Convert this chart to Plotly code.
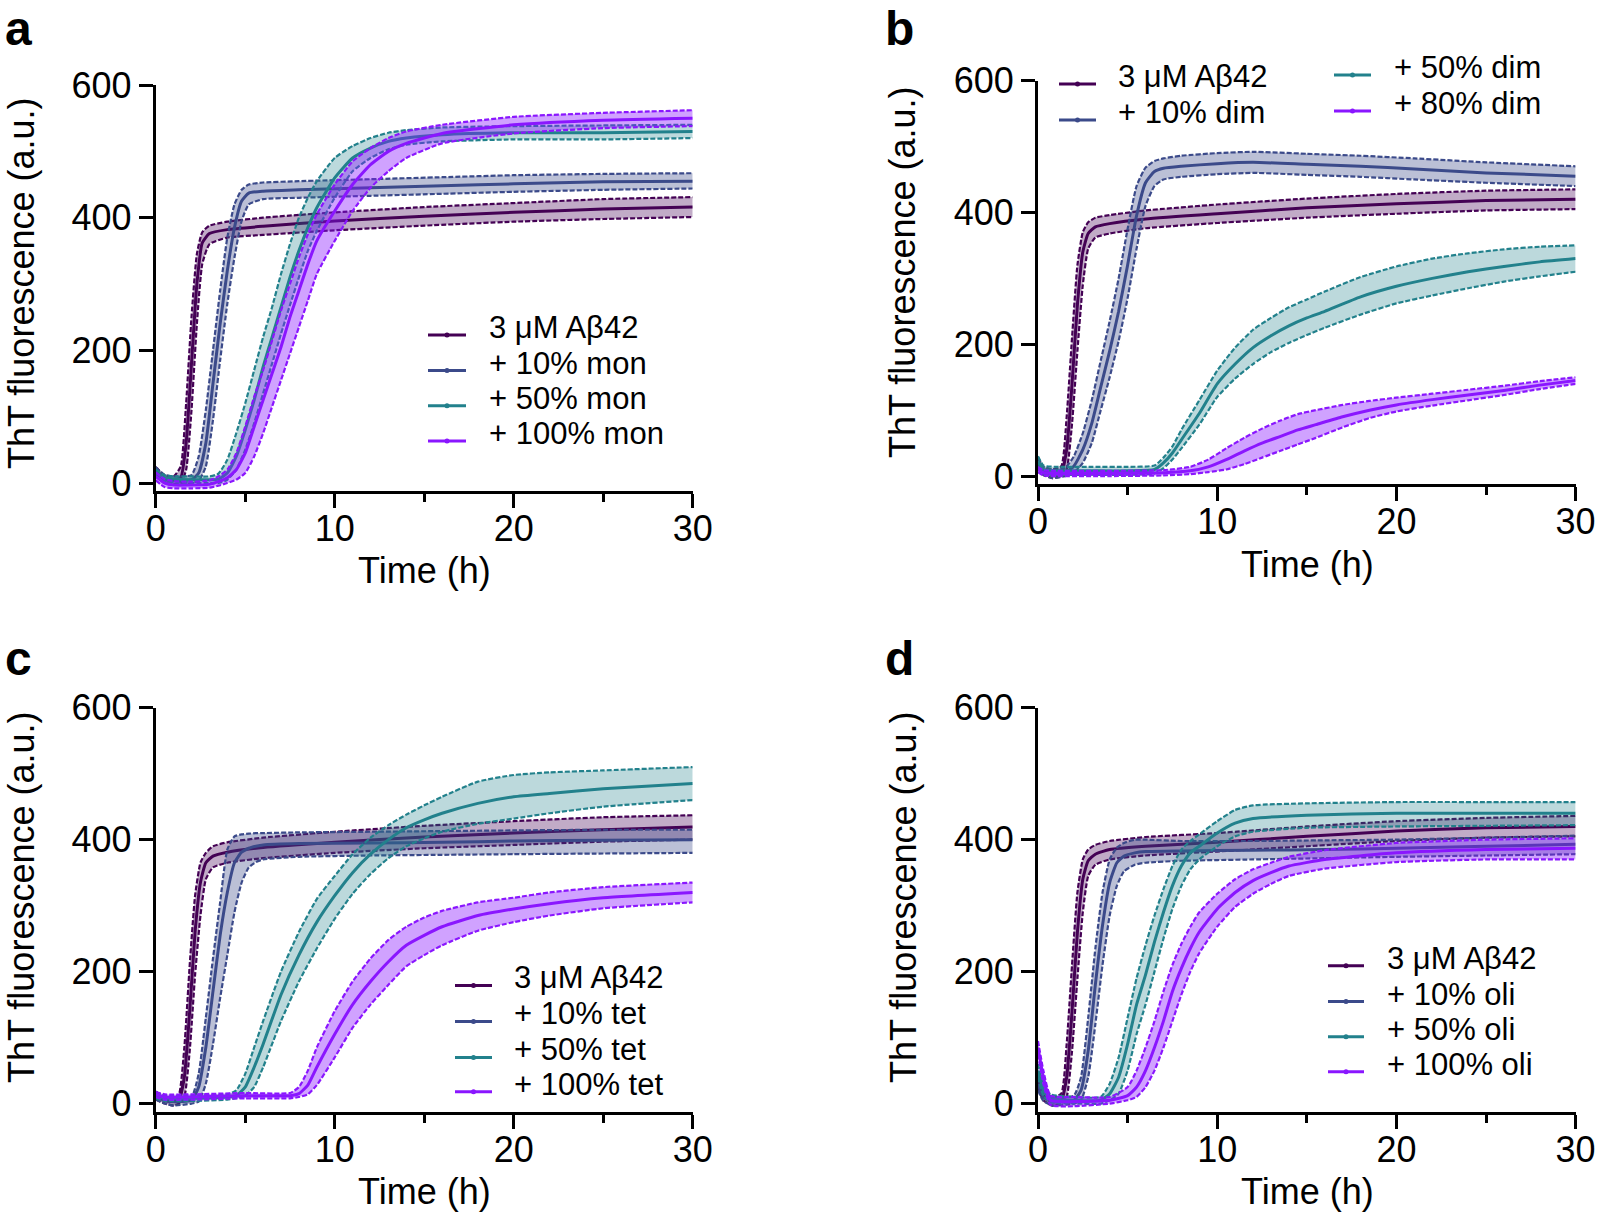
import plotly.graph_objects as go

W, H = 1599, 1218
FONT = "Arial, 'Liberation Sans', Helvetica, sans-serif"

COLORS = ["#440154", "#3b4a8a", "#22818c", "#8a16ff"]
FILLS = ["rgba(68,1,84,0.33)", "rgba(59,74,138,0.35)", "rgba(34,129,140,0.30)", "rgba(138,22,255,0.40)"]

# ---------------- Panel a (monomer) ----------------
a_labels = ["3 μM Aβ42", "+ 10% mon", "+ 50% mon", "+ 100% mon"]
a1_t = [0, 0.5, 1.0, 1.4, 1.7, 2.0, 2.3, 2.6, 3.0, 4, 6, 10, 15, 20, 25, 30]
a1_mean = [18, 6, 4, 8, 60, 180, 300, 362, 376, 382, 387, 395, 402, 408, 413, 416]
a1_hi = [24, 12, 10, 25, 120, 250, 345, 378, 388, 394, 400, 408, 416, 422, 428, 431]
a1_lo = [12, 0, -2, 0, 20, 110, 240, 330, 360, 370, 374, 381, 388, 394, 398, 401]

a2_t = [0, 0.5, 1.0, 2.0, 2.4, 2.8, 3.2, 3.6, 4.0, 4.4, 4.8, 5.2, 6, 8, 12, 16, 20, 25, 30]
a2_mean = [18, 6, 4, 5, 15, 60, 150, 240, 320, 385, 425, 437, 440, 442, 445, 448, 451, 454, 455]
a2_hi = [24, 12, 10, 12, 40, 110, 200, 290, 370, 420, 442, 450, 453, 455, 458, 461, 464, 466, 467]
a2_lo = [12, 0, -2, 0, 3, 25, 95, 185, 270, 340, 395, 420, 428, 430, 433, 436, 439, 442, 444]

a3_t = [0, 0.5, 1, 2, 3, 3.5, 4, 4.5, 5, 5.5, 6, 6.5, 7, 7.5, 8, 8.5, 9, 10, 11, 12, 13, 14, 16, 20, 25, 30]
a3_mean = [15, 8, 6, 5, 5, 6, 15, 40, 80, 125, 175, 220, 265, 310, 350, 385, 415, 460, 490, 505, 515, 520, 525, 528, 528, 530]
a3_hi = [20, 12, 10, 10, 10, 14, 35, 75, 120, 170, 220, 265, 315, 360, 400, 430, 455, 490, 508, 520, 528, 532, 536, 538, 539, 540]
a3_lo = [10, 3, 1, 0, 0, 0, 5, 20, 50, 90, 135, 180, 225, 268, 310, 350, 380, 430, 470, 490, 503, 510, 515, 518, 518, 520]

a4_t = [0, 0.5, 1, 2, 3, 3.5, 4, 4.5, 5, 5.5, 6, 6.5, 7, 7.5, 8, 8.5, 9, 10, 11, 12, 13, 14, 16, 20, 25, 30]
a4_mean = [10, 0, -3, -3, -2, 2, 8, 20, 45, 85, 125, 165, 205, 250, 290, 330, 365, 410, 450, 480, 500, 512, 527, 540, 547, 550]
a4_hi = [16, 6, 3, 2, 4, 10, 20, 45, 85, 130, 170, 215, 260, 300, 340, 375, 405, 450, 485, 505, 520, 530, 540, 552, 558, 562]
a4_lo = [4, -6, -8, -8, -7, -4, 0, 5, 15, 40, 75, 115, 155, 195, 235, 275, 315, 365, 410, 445, 470, 490, 512, 527, 535, 538]

# ---------------- Panel b (dimer) ----------------
b_labels = ["3 μM Aβ42", "+ 10% dim", "+ 50% dim", "+ 80% dim"]
b1_t = [0, 0.3, 0.8, 1.3, 1.6, 1.9, 2.2, 2.5, 2.8, 3.2, 4, 6, 10, 15, 20, 25, 30]
b1_mean = [20, 8, 3, 5, 40, 140, 260, 340, 368, 378, 383, 390, 398, 407, 413, 418, 420]
b1_hi = [28, 14, 10, 15, 90, 210, 320, 370, 385, 392, 396, 403, 412, 421, 428, 433, 435]
b1_lo = [12, 2, -3, 0, 10, 80, 190, 290, 345, 362, 368, 376, 384, 392, 398, 403, 405]

b2_t = [0, 0.3, 0.8, 1.5, 2.0, 2.5, 3.0, 3.5, 4.0, 4.5, 5.0, 5.5, 6.0, 6.5, 7, 8, 10, 12, 15, 18, 21, 25, 30]
b2_mean = [20, 8, 3, 5, 15, 40, 80, 135, 190, 250, 320, 395, 445, 462, 467, 470, 474, 476, 473, 470, 466, 460, 455]
b2_hi = [28, 14, 10, 12, 30, 65, 115, 175, 235, 300, 375, 440, 468, 478, 482, 486, 490, 492, 489, 486, 482, 476, 470]
b2_lo = [12, 2, -3, 0, 5, 20, 50, 100, 150, 205, 270, 345, 410, 440, 450, 454, 458, 460, 457, 454, 450, 445, 440]

b3_t = [0, 0.3, 1, 3, 5, 6.5, 7, 7.5, 8, 9, 10, 11, 12, 13, 14, 15, 16, 18, 20, 22, 24, 26, 28, 30]
b3_mean = [22, 10, 8, 8, 8, 10, 20, 35, 55, 95, 140, 170, 195, 213, 228, 240, 250, 272, 288, 300, 310, 318, 325, 330]
b3_hi = [30, 16, 14, 14, 14, 16, 28, 45, 70, 115, 160, 195, 222, 240, 256, 268, 280, 302, 318, 330, 338, 344, 348, 350]
b3_lo = [14, 4, 2, 2, 2, 4, 12, 25, 42, 78, 120, 148, 170, 188, 202, 214, 225, 245, 262, 274, 285, 295, 303, 310]

b4_t = [0, 0.3, 1, 4, 7, 8.5, 9.5, 10.5, 11.5, 12.5, 13.5, 14.5, 15.5, 17, 18.5, 20, 22, 24, 26, 28, 30]
b4_mean = [10, 5, 4, 4, 5, 8, 14, 25, 38, 50, 60, 70, 78, 90, 100, 108, 116, 123, 130, 138, 145]
b4_hi = [14, 9, 8, 8, 9, 14, 25, 42, 58, 72, 84, 94, 100, 108, 114, 119, 125, 131, 137, 144, 150]
b4_lo = [6, 1, 0, 0, 1, 3, 6, 10, 18, 28, 38, 48, 58, 74, 88, 98, 107, 115, 123, 132, 140]

# ---------------- Panel c (tetramer) ----------------
c_labels = ["3 μM Aβ42", "+ 10% tet", "+ 50% tet", "+ 100% tet"]
c1_t = [0, 0.5, 1.0, 1.3, 1.6, 1.9, 2.2, 2.5, 2.8, 3.2, 4, 6, 10, 15, 20, 25, 30]
c1_mean = [12, 5, 3, 6, 40, 140, 260, 335, 365, 375, 381, 388, 396, 404, 410, 415, 419]
c1_hi = [18, 10, 8, 14, 85, 210, 315, 365, 380, 390, 396, 403, 412, 421, 428, 434, 437]
c1_lo = [6, 0, -3, 0, 10, 80, 195, 285, 340, 358, 365, 372, 380, 387, 392, 397, 400]

c2_t = [0, 0.5, 1.0, 2.0, 2.4, 2.8, 3.2, 3.6, 4.0, 4.4, 4.8, 5.2, 5.6, 6, 8, 12, 16, 20, 25, 30]
c2_mean = [12, 5, 3, 5, 25, 85, 170, 255, 320, 365, 381, 387, 390, 392, 394, 395, 396, 398, 399, 400]
c2_hi = [18, 10, 8, 10, 45, 130, 220, 305, 385, 405, 408, 409, 410, 410, 411, 412, 413, 414, 415, 415]
c2_lo = [6, 0, -3, 0, 3, 30, 90, 160, 225, 290, 335, 358, 366, 370, 374, 376, 377, 378, 379, 380]

c3_t = [0, 0.5, 2, 4, 4.5, 5, 5.5, 6, 7, 8, 9, 10, 11, 12, 13, 14, 15, 16, 18, 20, 22, 25, 30]
c3_mean = [12, 8, 8, 10, 12, 25, 55, 90, 165, 225, 275, 315, 350, 378, 400, 418, 430, 440, 455, 465, 470, 477, 485]
c3_hi = [16, 12, 12, 14, 20, 45, 85, 125, 200, 260, 310, 345, 378, 403, 422, 438, 452, 465, 488, 498, 502, 505, 510]
c3_lo = [8, 4, 4, 6, 8, 12, 25, 55, 125, 185, 235, 280, 318, 348, 372, 390, 402, 412, 424, 432, 440, 450, 460]

c4_t = [0, 0.5, 2, 5, 7.5, 8, 8.5, 9, 10, 11, 12, 13, 14, 15, 16, 18, 20, 22, 25, 30]
c4_mean = [14, 10, 10, 12, 12, 15, 28, 55, 105, 150, 185, 215, 240, 255, 268, 285, 295, 303, 312, 320]
c4_hi = [18, 14, 14, 16, 16, 25, 50, 85, 140, 185, 220, 248, 268, 282, 292, 305, 312, 320, 328, 335]
c4_lo = [10, 6, 6, 8, 8, 10, 14, 28, 70, 115, 150, 180, 208, 225, 240, 262, 275, 285, 296, 305]

# ---------------- Panel d (oligomer) ----------------
d_labels = ["3 μM Aβ42", "+ 10% oli", "+ 50% oli", "+ 100% oli"]
d1_t = [0, 0.3, 0.8, 1.3, 1.6, 1.9, 2.2, 2.5, 2.8, 3.2, 4, 6, 10, 15, 20, 25, 30]
d1_mean = [35, 12, 3, 5, 40, 140, 260, 340, 368, 378, 385, 390, 396, 405, 413, 418, 420]
d1_hi = [45, 20, 10, 15, 90, 210, 320, 370, 385, 392, 398, 404, 410, 420, 428, 433, 436]
d1_lo = [25, 5, -3, 0, 10, 80, 190, 290, 345, 362, 370, 376, 382, 390, 398, 403, 405]

d2_t = [0, 0.3, 0.8, 2.0, 2.4, 2.8, 3.2, 3.6, 4.0, 4.4, 4.8, 5.4, 6, 8, 12, 16, 20, 25, 30]
d2_mean = [30, 10, 3, 5, 20, 80, 180, 270, 335, 365, 375, 380, 382, 383, 384, 385, 387, 390, 393]
d2_hi = [40, 18, 10, 12, 40, 130, 235, 320, 370, 388, 395, 400, 400, 398, 398, 399, 400, 403, 406]
d2_lo = [20, 4, -3, 0, 5, 40, 120, 210, 285, 330, 352, 362, 365, 368, 370, 372, 374, 376, 378]

d3_t = [0, 0.3, 0.7, 2, 3.5, 4.0, 4.5, 5, 5.5, 6, 6.5, 7, 7.5, 8, 8.5, 9, 10, 11, 12, 15, 20, 25, 30]
d3_mean = [50, 20, 8, 5, 5, 15, 40, 90, 150, 195, 245, 290, 330, 360, 380, 390, 410, 425, 432, 437, 440, 440, 440]
d3_hi = [60, 28, 14, 10, 10, 30, 70, 130, 190, 240, 285, 325, 360, 385, 398, 408, 428, 445, 452, 455, 457, 457, 457]
d3_lo = [40, 12, 2, 0, 0, 5, 15, 50, 105, 150, 200, 250, 295, 330, 355, 370, 390, 405, 412, 418, 420, 421, 422]

d4_t = [0, 0.3, 0.7, 2, 4, 5, 5.5, 6, 6.5, 7, 7.5, 8, 8.5, 9, 10, 11, 12, 13, 14, 16, 20, 25, 30]
d4_mean = [85, 40, 5, 3, 5, 12, 25, 50, 85, 125, 170, 205, 235, 260, 295, 320, 338, 350, 360, 370, 380, 385, 387]
d4_hi = [95, 50, 12, 10, 10, 25, 50, 85, 125, 170, 210, 242, 268, 290, 318, 340, 355, 365, 374, 384, 395, 400, 402]
d4_lo = [75, 30, -2, -4, 0, 5, 10, 25, 50, 85, 125, 165, 200, 228, 268, 298, 318, 333, 345, 356, 366, 370, 370]

x_ticks = [0, 10, 20, 30]
y_ticks = [0, 200, 400, 600]
x_title = "Time (h)"
y_title = "ThT fluorescence (a.u.)"


def px(x):
    return x / W


def py(y):
    return 1 - y / H


panels = [
    dict(letter="a", ax="", xdom=(155.7, 692.7), ytop=85.0, ybot=491.0,
         series=[(a1_t, a1_mean, a1_lo, a1_hi), (a2_t, a2_mean, a2_lo, a2_hi),
                 (a3_t, a3_mean, a3_lo, a3_hi), (a4_t, a4_mean, a4_lo, a4_hi)],
         labels=a_labels, letter_pos=(3, 0, "top"), ytitle=(21, 283), xtitle=(424, 570),
         leg=[(428, 466, 335.0, 487), (428, 466, 370.5, 487), (428, 466, 405.7, 487), (428, 466, 441.0, 487)]),
    dict(letter="b", ax="2", xdom=(1038.0, 1575.6), ytop=80.6, ybot=484.0,
         series=[(b1_t, b1_mean, b1_lo, b1_hi), (b2_t, b2_mean, b2_lo, b2_hi),
                 (b3_t, b3_mean, b3_lo, b3_hi), (b4_t, b4_mean, b4_lo, b4_hi)],
         labels=b_labels, letter_pos=(883, 0, "top"), ytitle=(903, 272), xtitle=(1307, 564),
         leg=[(1059, 1096, 84.0, 1116), (1059, 1096, 120.0, 1116), (1334, 1371, 75.0, 1392), (1334, 1371, 111.0, 1392)]),
    dict(letter="c", ax="3", xdom=(155.7, 692.7), ytop=707.7, ybot=1111.5,
         series=[(c1_t, c1_mean, c1_lo, c1_hi), (c2_t, c2_mean, c2_lo, c2_hi),
                 (c3_t, c3_mean, c3_lo, c3_hi), (c4_t, c4_mean, c4_lo, c4_hi)],
         labels=c_labels, letter_pos=(3, 658.4, "middle"), ytitle=(21, 897), xtitle=(424, 1191),
         leg=[(455, 492, 985.4, 512), (455, 492, 1021.4, 512), (455, 492, 1057.4, 512), (455, 492, 1091.7, 512)]),
    dict(letter="d", ax="4", xdom=(1038.0, 1575.6), ytop=707.7, ybot=1111.5,
         series=[(d1_t, d1_mean, d1_lo, d1_hi), (d2_t, d2_mean, d2_lo, d2_hi),
                 (d3_t, d3_mean, d3_lo, d3_hi), (d4_t, d4_mean, d4_lo, d4_hi)],
         labels=d_labels, letter_pos=(883, 658.4, "middle"), ytitle=(903, 897), xtitle=(1307, 1191),
         leg=[(1328, 1364, 965.8, 1385), (1328, 1364, 1001.5, 1385), (1328, 1364, 1036.8, 1385), (1328, 1364, 1071.8, 1385)]),
]

fig = go.Figure()
layout = dict(
    width=W, height=H, margin=dict(l=0, r=0, t=0, b=0, autoexpand=False),
    paper_bgcolor="white", plot_bgcolor="white", showlegend=False,
    font=dict(family=FONT, size=36, color="black"),
)
annotations = []
shapes = []
LEG_FONT = 31

for p in panels:
    xa = "x" + p["ax"]
    ya = "y" + p["ax"]
    for i, (t, m, lo, hi) in enumerate(p["series"]):
        col = COLORS[i]
        fig.add_trace(go.Scatter(x=t, y=hi, xaxis=xa, yaxis=ya, mode="lines",
                                 line=dict(color=col, width=2.2, dash="5px,2px", shape="spline", smoothing=0.5),
                                 hoverinfo="skip"))
        fig.add_trace(go.Scatter(x=t, y=lo, xaxis=xa, yaxis=ya, mode="lines", fill="tonexty",
                                 fillcolor=FILLS[i],
                                 line=dict(color=col, width=2.2, dash="5px,2px", shape="spline", smoothing=0.5),
                                 hoverinfo="skip"))
        fig.add_trace(go.Scatter(x=t, y=m, xaxis=xa, yaxis=ya, mode="lines", name=p["labels"][i],
                                 line=dict(color=col, width=3, shape="spline", smoothing=0.5)))

    xkey = "xaxis" + p["ax"]
    ykey = "yaxis" + p["ax"]
    layout[xkey] = dict(
        domain=[px(p["xdom"][0]), px(p["xdom"][1])], anchor=ya, range=[0, 30], automargin=False,
        tickvals=x_ticks, ticks="outside", ticklen=14, tickwidth=3, tickcolor="black",
        showline=True, linewidth=3, linecolor="black", showgrid=False, zeroline=False,
        tickfont=dict(size=36), ticklabelstandoff=-10,
        minor=dict(dtick=5, tick0=0, ticks="outside", ticklen=8, tickwidth=3, tickcolor="black", showgrid=False),
    )
    layout[ykey] = dict(
        domain=[py(p["ybot"]), py(p["ytop"])], anchor=xa, range=[-12, 600], automargin=False,
        tickvals=y_ticks, ticks="outside", ticklen=14, tickwidth=3, tickcolor="black",
        showline=True, linewidth=3, linecolor="black", showgrid=False, zeroline=False,
        tickfont=dict(size=36), ticklabelstandoff=0,
    )

    # axis titles
    tx, ty = p["ytitle"]
    annotations.append(dict(text=y_title, x=px(tx), y=py(ty), xref="paper", yref="paper", textangle=-90,
                            xanchor="center", yanchor="middle", showarrow=False, font=dict(size=36, color="black")))
    tx, ty = p["xtitle"]
    annotations.append(dict(text=x_title, x=px(tx), y=py(ty), xref="paper", yref="paper",
                            xanchor="center", yanchor="middle", showarrow=False, font=dict(size=36, color="black")))

    lx, ly, lanchor = p["letter_pos"]
    annotations.append(dict(text="<b>" + p["letter"] + "</b>", x=px(lx), y=py(ly), xref="paper", yref="paper",
                            xanchor="left", yanchor=lanchor, showarrow=False, font=dict(size=48, color="black")))

    for i, (x0, x1, yl, xt) in enumerate(p["leg"]):
        col = COLORS[i]
        shapes.append(dict(type="line", xref="paper", yref="paper", x0=px(x0), x1=px(x1), y0=py(yl), y1=py(yl),
                           line=dict(color=col, width=3)))
        xc = (x0 + x1) / 2
        shapes.append(dict(type="circle", xref="paper", yref="paper", x0=px(xc - 2.5), x1=px(xc + 2.5),
                           y0=py(yl + 2.5), y1=py(yl - 2.5), fillcolor=col, line=dict(color=col, width=0)))
        annotations.append(dict(text=p["labels"][i], x=px(xt), y=py(yl - 7.5), xref="paper", yref="paper",
                                xanchor="left", yanchor="middle", showarrow=False,
                                font=dict(size=LEG_FONT, color="black")))

layout["annotations"] = annotations
layout["shapes"] = shapes
fig.update_layout(**layout)
fig.write_html("out.html", config={"displayModeBar": False},
               post_script="document.body.style.margin='0px';document.body.style.overflow='hidden';")
